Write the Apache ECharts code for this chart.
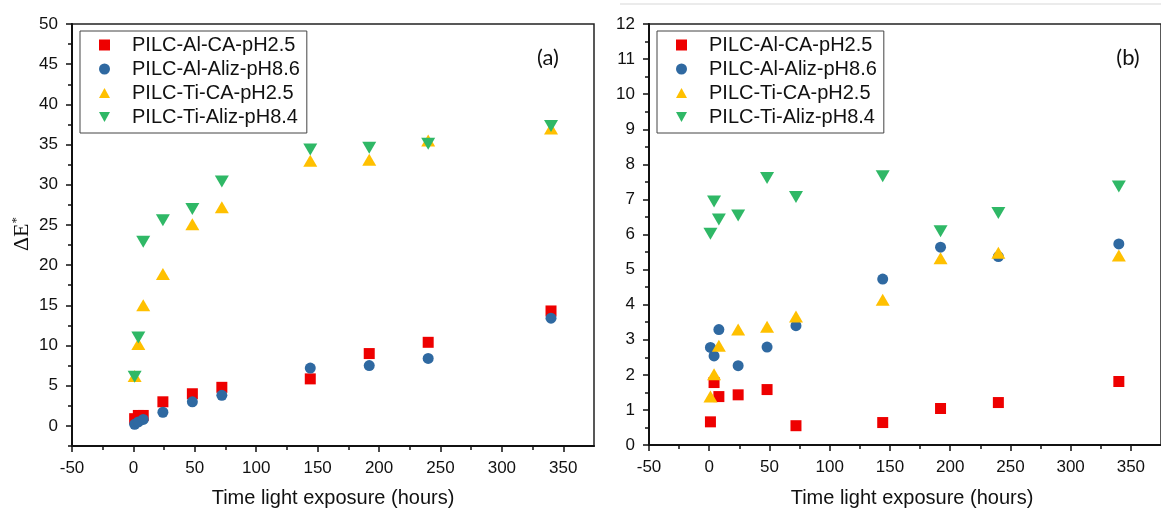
<!DOCTYPE html>
<html>
<head>
<meta charset="utf-8">
<script src="https://cdn.jsdelivr.net/npm/echarts@6/dist/echarts.min.js"></script>
<style>
  html, body { margin: 0; padding: 0; background: #fff; }
  #chart { width: 1161px; height: 508px; }
</style>
</head>
<body>
<div id="chart"></div>
<script>
// exposure times (hours)
const hours = [1, 4, 8, 24, 48, 72, 144, 192, 240, 340];
const seriesNames = ['PILC-Al-CA-pH2.5', 'PILC-Al-Aliz-pH8.6', 'PILC-Ti-CA-pH2.5', 'PILC-Ti-Aliz-pH8.4'];

// panel (a)
const aAlCA = [0.9, 1.3, 1.3, 3.0, 4.0, 4.8, 5.85, 9.0, 10.4, 14.3];
const aAlAliz = [0.2, 0.5, 0.8, 1.7, 3.0, 3.8, 7.2, 7.5, 8.4, 13.4];
const aTiCA = [6.2, 10.2, 15.0, 18.9, 25.1, 27.2, 33.0, 33.1, 35.5, 37.0];
const aTiAliz = [6.1, 11.0, 22.9, 25.6, 27.0, 30.4, 34.4, 34.6, 35.1, 37.3];

// panel (b)
const bAlCA = [0.66, 1.78, 1.38, 1.43, 1.58, 0.55, 0.64, 1.04, 1.21, 1.81];
const bAlAliz = [2.78, 2.54, 3.29, 2.26, 2.79, 3.4, 4.73, 5.64, 5.37, 5.73];
const bTiCA = [1.38, 2.02, 2.83, 3.29, 3.37, 3.66, 4.14, 5.32, 5.48, 5.4];
const bTiAliz = [6.02, 6.94, 6.43, 6.54, 7.61, 7.07, 7.66, 6.09, 6.61, 7.37];

// ticks
const xMajor = [-50, 0, 50, 100, 150, 200, 250, 300, 350];
const xMinor = [-25, 25, 75, 125, 175, 225, 275, 325];
const yAMajor = [0, 5, 10, 15, 20, 25, 30, 35, 40, 45, 50];
const yAMinor = [-2.5, 2.5, 7.5, 12.5, 17.5, 22.5, 27.5, 32.5, 37.5, 42.5, 47.5];
const yBMajor = [0, 1, 2, 3, 4, 5, 6, 7, 8, 9, 10, 11, 12];
const yBMinor = [0.5, 1.5, 2.5, 3.5, 4.5, 5.5, 6.5, 7.5, 8.5, 9.5, 10.5, 11.5];

const colors = ['#ee0000', '#2f69a1', '#ffc000', '#2fb866'];
const symbols = ['rect', 'circle', 'triangle', 'triangle'];
const sizes = [11, 11, [14, 12], [14, 12]];
const rotates = [0, 0, 0, 180];
const legendIcons = ['rect', 'circle', 'path://M5,0 L10,9 L0,9 Z', 'path://M0,0 L10,0 L5,9 Z'];

const FONT = 'Liberation Sans';
const chart = echarts.init(document.getElementById('chart'));

const pair = (ys) => hours.map((h, i) => [h, ys[i]]);

function mainX(gridIndex) {
  return {
    type: 'value', gridIndex, min: -50, max: 375, position: 'bottom',
    axisLine: { show: true, onZero: false, lineStyle: { color: '#111', width: 2 } },
    axisTick: { show: true, length: 6, customValues: xMajor, lineStyle: { color: '#111', width: 1.5 } },
    axisLabel: { customValues: xMajor, margin: 14, fontSize: 17, color: '#111', fontFamily: FONT },
    splitLine: { show: false },
  };
}
function minorX(gridIndex) {
  return {
    type: 'value', gridIndex, min: -50, max: 375, position: 'bottom',
    axisLine: { show: false, onZero: false },
    axisTick: { show: true, length: 4, customValues: xMinor, lineStyle: { color: '#111', width: 1.5 } },
    axisLabel: { show: false },
    splitLine: { show: false },
  };
}
function mainY(gridIndex, min, max, major) {
  return {
    type: 'value', gridIndex, min, max, position: 'left',
    axisLine: { show: true, onZero: false, lineStyle: { color: '#111', width: 2 } },
    axisTick: { show: true, length: 6, customValues: major, lineStyle: { color: '#111', width: 1.5 } },
    axisLabel: { customValues: major, margin: 14, fontSize: 17, color: '#111', fontFamily: FONT },
    splitLine: { show: false },
  };
}
function minorY(gridIndex, min, max, minor) {
  return {
    type: 'value', gridIndex, min, max, position: 'left',
    axisLine: { show: false, onZero: false },
    axisTick: { show: true, length: 4, customValues: minor, lineStyle: { color: '#111', width: 1.5 } },
    axisLabel: { show: false },
    splitLine: { show: false },
  };
}

function legendFor(left) {
  return {
    data: seriesNames.map((name, k) => ({ name, icon: legendIcons[k] })),
    orient: 'vertical',
    left, top: 31,
    padding: [4, 7, 6, 19],
    itemGap: 4,
    itemWidth: 11, itemHeight: 11,
    borderColor: '#444', borderWidth: 1,
    selectedMode: false,
    textStyle: { fontSize: 20, color: '#111', fontFamily: FONT, lineHeight: 20, padding: [0, 0, 0, 17] },
  };
}

const panels = [[aAlCA, aAlAliz, aTiCA, aTiAliz], [bAlCA, bAlAliz, bTiCA, bTiAliz]];
const series = [];
panels.forEach((sets, g) => {
  sets.forEach((ys, k) => {
    series.push({
      name: seriesNames[k],
      type: 'scatter',
      xAxisIndex: g * 2, yAxisIndex: g * 2,
      data: pair(ys),
      symbol: symbols[k],
      symbolSize: sizes[k],
      symbolRotate: rotates[k],
      itemStyle: { color: colors[k], opacity: 1 },
      z: 2 + k,
    });
  });
});

chart.setOption({
  animation: false,
  color: colors,
  grid: [
    { left: 72, top: 24, width: 522, height: 422, show: true, borderColor: '#222', borderWidth: 1.5 },
    { left: 649, top: 24, width: 525, height: 421, show: true, borderColor: '#222', borderWidth: 1.5 },
  ],
  xAxis: [mainX(0), minorX(0), mainX(1), minorX(1)],
  yAxis: [
    mainY(0, -2.5, 50, yAMajor), minorY(0, -2.5, 50, yAMinor),
    mainY(1, 0, 12, yBMajor), minorY(1, 0, 12, yBMinor),
  ],
  legend: [legendFor(80), legendFor(657)],
  series,
  graphic: [
    { type: 'line', shape: { x1: 620, y1: 4, x2: 1161, y2: 4 }, style: { stroke: '#e4e4e4', lineWidth: 1.5 } },
    {
      type: 'text', x: 22, y: 234, rotation: Math.PI / 2,
      style: {
        text: '{a|ΔE}{b|*}', align: 'center', verticalAlign: 'middle',
        rich: {
          a: { fontSize: 22, fontFamily: 'Liberation Serif', fill: '#111' },
          b: { fontSize: 13, fontFamily: 'Liberation Serif', fill: '#111', verticalAlign: 'top', padding: [0, 0, 10, 0] },
        },
      },
    },
    { type: 'text', x: 333, y: 498, style: { text: 'Time light exposure (hours)', align: 'center', verticalAlign: 'middle', fontSize: 20, fontFamily: FONT, fill: '#111' } },
    { type: 'text', x: 912, y: 498, style: { text: 'Time light exposure (hours)', align: 'center', verticalAlign: 'middle', fontSize: 20, fontFamily: FONT, fill: '#111' } },
    { type: 'text', x: 548, y: 58, style: { text: '(a)', align: 'center', verticalAlign: 'middle', fontSize: 22, fontFamily: 'Lato', fill: '#111' } },
    { type: 'text', x: 1128, y: 58, style: { text: '(b)', align: 'center', verticalAlign: 'middle', fontSize: 22, fontFamily: 'Lato', fill: '#111' } },
  ],
});
</script>
</body>
</html>
